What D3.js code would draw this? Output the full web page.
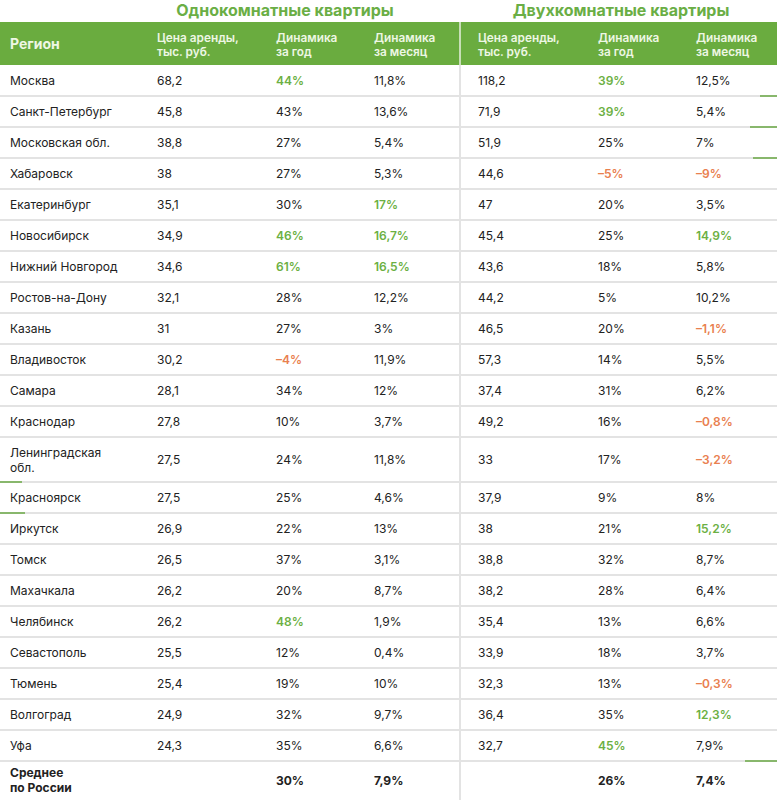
<!DOCTYPE html>
<html><head><meta charset="utf-8">
<script src="https://cdn.jsdelivr.net/npm/d3@7"></script>
<style>
body{margin:0;background:#fff;}
svg{display:block;font-family:Inter,"Open Sans",sans-serif;}
</style></head>
<body><svg id="c" width="777" height="800"></svg>
<script>
const groupTitles = ["Однокомнатные квартиры", "Двухкомнатные квартиры"];
const headers = ["Регион", "Цена аренды,\nтыс. руб.", "Динамика\nза год", "Динамика\nза месяц", "Цена аренды,\nтыс. руб.", "Динамика\nза год", "Динамика\nза месяц"];
const regions = ["Москва","Санкт-Петербург","Московская обл.","Хабаровск","Екатеринбург","Новосибирск","Нижний Новгород","Ростов-на-Дону","Казань","Владивосток","Самара","Краснодар","Ленинградская\nобл.","Красноярск","Иркутск","Томск","Махачкала","Челябинск","Севастополь","Тюмень","Волгоград","Уфа"];
const price1 = [68.2,45.8,38.8,38,35.1,34.9,34.6,32.1,31,30.2,28.1,27.8,27.5,27.5,26.9,26.5,26.2,26.2,25.5,25.4,24.9,24.3];
const year1  = [44,43,27,27,30,46,61,28,27,-4,34,10,24,25,22,37,20,48,12,19,32,35];
const month1 = [11.8,13.6,5.4,5.3,17,16.7,16.5,12.2,3,11.9,12,3.7,11.8,4.6,13,3.1,8.7,1.9,0.4,10,9.7,6.6];
const price2 = [118.2,71.9,51.9,44.6,47,45.4,43.6,44.2,46.5,57.3,37.4,49.2,33,37.9,38,38.8,38.2,35.4,33.9,32.3,36.4,32.7];
const year2  = [39,39,25,-5,20,25,18,5,20,14,31,16,17,9,21,32,28,13,18,13,35,45];
const month2 = [12.5,5.4,7,-9,3.5,14.9,5.8,10.2,-1.1,5.5,6.2,-0.8,-3.2,8,15.2,8.7,6.4,6.6,3.7,-0.3,12.3,7.9];
// indices of cells highlighted in green in each column
const top_year1 = [0,5,6,17];
const top_month1 = [4,5,6];
const top_year2 = [0,1,21];
const top_month2 = [5,14,20];
const avgLabel = "Среднее\nпо России";
const avg = [null, 30, 7.9, null, 26, 7.4];

const svg = d3.select("#c");
const W = 777;
const GREEN = "#6aac3f", HI = "#6cb043", NEG = "#e9804f", TXT = "#222", LINE = "#e3e3e3";
const colX = [10,157,276,374,478,598,696];
const FS = 12;
const fmtNum = v => String(v).replace(".", ",").replace("-", "–");
const fmtPct = v => fmtNum(v) + "%";

// titles
svg.selectAll("text.gt").data(groupTitles).join("text")
  .attr("x",(d,i)=>[285,621][i]).attr("y",16).attr("text-anchor","middle")
  .attr("font-size",16).attr("font-weight",700).attr("fill","#6aae45").text(d=>d);

// header band
const headTop = 22, headBot = 65;
svg.append("rect").attr("x",0).attr("y",headTop).attr("width",W).attr("height",headBot-headTop).attr("fill",GREEN);
svg.append("line").attr("x1",460).attr("x2",460).attr("y1",headTop).attr("y2",headBot).attr("stroke","#e8f0e0").attr("stroke-width",1.5);
headers.forEach((h,i)=>{
  const lines = h.split("\n");
  const t = svg.append("text").attr("x",colX[i]).attr("fill","#eef7e4")
    .attr("font-size", i===0?14:11.8).attr("font-weight", i===0?700:600);
  const cy = (headTop+headBot)/2 + 1;
  lines.forEach((l,k)=>{
    t.append("tspan").attr("x",colX[i]).attr("y", cy + (k-(lines.length-1)/2)*14 + 4).text(l);
  });
});

// rows
const rowH = regions.map(r => r.includes("\n") ? 45 : 31);
const yStart = [];
let acc = headBot;
rowH.forEach(h => { yStart.push(acc); acc += h; });
const avgTop = acc, avgBot = 800;

const cols = [price1, year1, month1, price2, year2, month2];
const tops = [[], top_year1, top_month1, [], top_year2, top_month2];
const isPct = [false,true,true,false,true,true];

const rows = svg.append("g");
regions.forEach((r,i)=>{
  const y0 = yStart[i], h = rowH[i], cy = y0 + h/2 + 0.5;
  const lines = r.split("\n");
  const t = rows.append("text").attr("font-size",FS).attr("fill",TXT);
  lines.forEach((l,k)=>t.append("tspan").attr("x",colX[0]).attr("y",cy + (k-(lines.length-1)/2)*15 + 4).text(l));
  cols.forEach((col,j)=>{
    const v = col[i];
    const neg = v < 0, hi = tops[j].includes(i);
    rows.append("text").attr("x",colX[j+1]).attr("y",cy+4)
      .attr("font-size",FS)
      .attr("font-weight",(neg||hi)?600:400)
      .attr("fill", neg?NEG:(hi?HI:TXT))
      .text(isPct[j]?fmtPct(v):fmtNum(v));
  });
  rows.append("line").attr("x1",0).attr("x2",W).attr("y1",y0+h).attr("y2",y0+h).attr("stroke",LINE).attr("stroke-width",2);
});

// average row
{
  const cy = (avgTop+avgBot)/2;
  const lines = avgLabel.split("\n");
  const t = rows.append("text").attr("font-size",FS).attr("font-weight",700).attr("fill",TXT);
  lines.forEach((l,k)=>t.append("tspan").attr("x",colX[0]).attr("y",cy + (k-(lines.length-1)/2)*15 + 4).text(l));
  avg.forEach((v,j)=>{
    if(v===null) return;
    rows.append("text").attr("x",colX[j+1]).attr("y",cy+4).attr("font-size",FS).attr("font-weight",700).attr("fill",TXT).text(fmtPct(v));
  });
}

// vertical divider
svg.append("line").attr("x1",460).attr("x2",460).attr("y1",headBot).attr("y2",800).attr("stroke",LINE).attr("stroke-width",2);

// stray green accent strokes on edges
const accents = [[1,760,777],[2,750,777],[3,753,777],[13,0,22],[14,0,25],[22,745,777]];
accents.forEach(([ri,x1,x2])=>{
  const y = ri < yStart.length ? yStart[ri] : avgTop;
  svg.append("line").attr("x1",x1).attr("x2",x2).attr("y1",y).attr("y2",y).attr("stroke","#6aa845").attr("stroke-width",1.5);
});
</script></body></html>
